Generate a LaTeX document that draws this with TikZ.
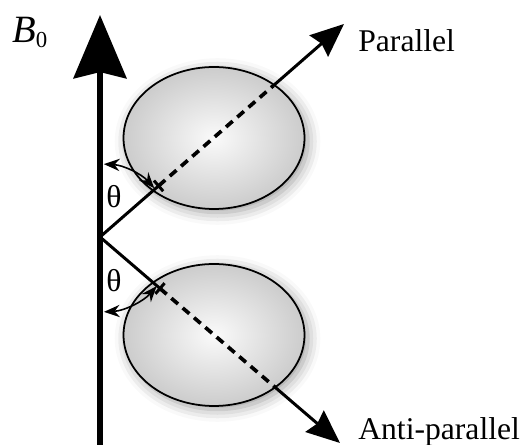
\documentclass[tikz,border=0pt]{standalone}
\usepackage{fontspec}
\setmainfont{Liberation Serif}
\usetikzlibrary{arrows.meta, calc, shapes.geometric, shadows.blur}

\begin{document}
\begin{tikzpicture}[x=0.02cm, y=0.02cm,
    cell/.style={ellipse, draw, line width=1pt, minimum width=3.62cm, minimum height=2.84cm,
        inner color=black!2, outer color=black!20,
        blur shadow={shadow xshift=2pt, shadow yshift=-2pt, shadow blur radius=7pt, shadow opacity=40}},
    spin/.style={line width=1.7pt},
    spintip/.style={-{Stealth[length=19pt, width=16pt, inset=2pt]}},
    angarc/.style={line width=0.9pt, {Stealth[length=9pt, width=7pt]}-{Stealth[length=9pt, width=7pt]}},
    lab/.style={font=\fontsize{18}{20}\selectfont, inner sep=0pt}]
    \useasboundingbox (0,0) rectangle (528,445);
    % field axis and origin
    \coordinate (o) at (100,208);
    \coordinate (axbot) at (100,0);
    \coordinate (axtop) at (100,430);
    \coordinate (ptip) at (344,421);
    \coordinate (atip) at (340,2);
    % the two orientations
    \node[cell] (upcell) at (214,307) {};
    \node[cell] (locell) at (214,110) {};
    \draw[line width=3.4pt, -{Stealth[length=36pt, width=30pt, inset=3.5pt]}] (axbot) -- (axtop);
    \node[font=\fontsize{22}{24}\selectfont, inner sep=0pt, anchor=base west] (bnot) at (12,402)
        {\textit{B}\raisebox{-2.8pt}{\fontsize{13}{13}\selectfont 0}};
    % parallel
    \draw[spin] (o) -- ($(o)!0.24!(ptip)$) coordinate (pin);
    \draw[spin, line width=2.1pt, dash pattern=on 5pt off 3.5pt] (pin) -- ($(o)!0.71!(ptip)$) coordinate (pout);
    \draw[spin, spintip] (pout) -- (ptip);
    \draw[spin] ($(pin)!4pt!90:(ptip)$) -- ($(pin)!4pt!-90:(ptip)$);
    \draw[angarc] ($(o)+(87:73)$) arc[start angle=87, end angle=42, radius=73];
    \node[lab] (thup) at (114,248) {θ};
    \node[lab, anchor=base west] (par) at (358,393) {Parallel};
    % anti-parallel
    \draw[spin] (o) -- ($(o)!0.25!(atip)$) coordinate (ain);
    \draw[spin, line width=2.1pt, dash pattern=on 5pt off 3.5pt] (ain) -- ($(o)!0.73!(atip)$) coordinate (aout);
    \draw[spin, spintip] (aout) -- (atip);
    \draw[spin] ($(ain)!4pt!90:(atip)$) -- ($(ain)!4pt!-90:(atip)$);
    \draw[angarc] ($(o)+(-87:75)$) arc[start angle=-87, end angle=-41, radius=75];
    \node[lab] (thlo) at (114,164) {θ};
    \node[lab, anchor=base west] (anti) at (358,5) {Anti-parallel};
\end{tikzpicture}
\end{document}
